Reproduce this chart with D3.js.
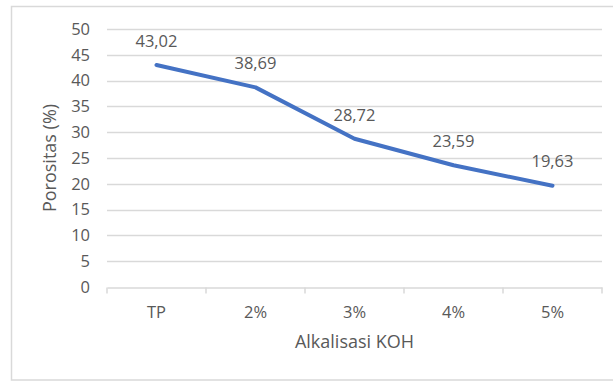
<!DOCTYPE html>
<html>
<head>
<meta charset="utf-8">
<script src="https://cdn.jsdelivr.net/npm/d3@7"></script>
<style>
  html, body { margin: 0; padding: 0; background: #fff; }
  svg { display: block; }
  text { font-family: "Open Sans", "Liberation Sans", sans-serif; fill: #595959; }
</style>
</head>
<body>
<svg id="chart" width="613" height="381"></svg>
<script>
// Porosity after KOH alkalization
const categories = ["TP", "2%", "3%", "4%", "5%"];
const porosity = [43.02, 38.69, 28.72, 23.59, 19.63];
const yTicks = [0, 5, 10, 15, 20, 25, 30, 35, 40, 45, 50];
const xTitle = "Alkalisasi KOH";
const yTitle = "Porositas (%)";

const svg = d3.select("#chart");
const W = 613;
const plot = { left: 107, right: 602, top: 29, bottom: 287 };

// outer frame
svg.append("rect")
  .attr("x", 11.5).attr("y", 6.5)
  .attr("width", W + 10).attr("height", 380 - 6.5)
  .attr("fill", "#fff").attr("stroke", "#d9d9d9").attr("stroke-width", 1.5);

const x = d3.scaleBand().domain(categories).range([plot.left, plot.right]).padding(0);
const y = d3.scaleLinear().domain([0, 50]).range([plot.bottom, plot.top]);

// horizontal gridlines
svg.append("g")
  .selectAll("line")
  .data(yTicks.filter(d => d > 0))
  .join("line")
  .attr("x1", plot.left).attr("x2", plot.right)
  .attr("y1", d => Math.round(y(d)) + 0.5).attr("y2", d => Math.round(y(d)) + 0.5)
  .attr("stroke", "#d9d9d9").attr("stroke-width", 1.5);

// y tick labels
svg.append("g")
  .selectAll("text")
  .data(yTicks)
  .join("text")
  .attr("x", 90).attr("y", d => y(d))
  .attr("dy", "0.35em")
  .attr("text-anchor", "end")
  .attr("font-size", 16.5)
  .text(d => d);

// x axis with category ticks between bands
const xAxis = svg.append("g")
  .attr("transform", `translate(0,${Math.round(plot.bottom) + 0.5})`)
  .call(d3.axisBottom(x).tickSize(0).tickFormat(""));
xAxis.select(".domain").attr("stroke", "#d9d9d9").attr("stroke-width", 1.5);
const boundaries = categories.map(c => x(c)).concat([x(categories[categories.length - 1]) + x.bandwidth()]);
xAxis.selectAll(".sep")
  .data(boundaries)
  .join("line")
  .attr("class", "sep")
  .attr("x1", d => d).attr("x2", d => d)
  .attr("y1", 0).attr("y2", 6)
  .attr("stroke", "#d9d9d9").attr("stroke-width", 1.5);

svg.append("g")
  .selectAll("text")
  .data(categories)
  .join("text")
  .attr("x", d => x(d) + x.bandwidth() / 2)
  .attr("y", 312)
  .attr("dy", "0.35em")
  .attr("text-anchor", "middle")
  .attr("font-size", 16.5)
  .text(d => d);

// axis titles
svg.append("text")
  .attr("x", (plot.left + plot.right) / 2).attr("y", 342)
  .attr("dy", "0.35em")
  .attr("text-anchor", "middle")
  .attr("font-size", 18)
  .text(xTitle);

svg.append("text")
  .attr("transform", `translate(50,${(plot.top + plot.bottom) / 2}) rotate(-90)`)
  .attr("dy", "0.35em")
  .attr("text-anchor", "middle")
  .attr("font-size", 18)
  .text(yTitle);

// series line
const pts = categories.map((c, i) => ({ c, v: porosity[i] }));
const line = d3.line()
  .x(d => x(d.c) + x.bandwidth() / 2)
  .y(d => y(d.v));

svg.append("path")
  .datum(pts)
  .attr("d", line)
  .attr("fill", "none")
  .attr("stroke", "#4472c4")
  .attr("stroke-width", 4)
  .attr("stroke-linejoin", "round")
  .attr("stroke-linecap", "round");

// value labels above points
const fmt = v => v.toFixed(2).replace(".", ",");
svg.append("g")
  .selectAll("text")
  .data(pts)
  .join("text")
  .attr("x", d => x(d.c) + x.bandwidth() / 2)
  .attr("y", d => y(d.v) - 24)
  .attr("dy", "0.35em")
  .attr("text-anchor", "middle")
  .attr("font-size", 16.5)
  .text(d => fmt(d.v));
</script>
</body>
</html>
